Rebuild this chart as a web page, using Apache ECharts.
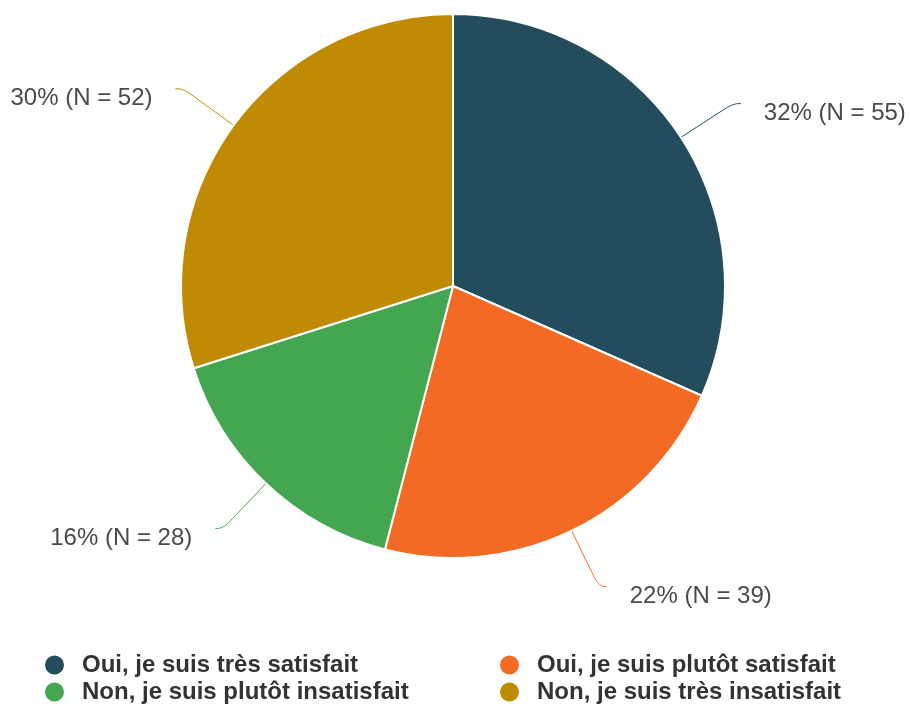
<!DOCTYPE html>
<html>
<head>
<meta charset="utf-8">
<script src="https://cdn.jsdelivr.net/npm/echarts@6/dist/echarts.min.js"></script>
<style>
  html, body { margin: 0; padding: 0; background: #fff; }
  #main { width: 910px; height: 707px; }
</style>
</head>
<body>
<div id="main"></div>
<script>
// données du graphique
const categories = [
  'Oui, je suis très satisfait',
  'Oui, je suis plutôt satisfait',
  'Non, je suis plutôt insatisfait',
  'Non, je suis très insatisfait'
]
const counts = [55, 39, 28, 52]
const colors = ['#234d5c', '#f26a24', '#45a651', '#c18a03']

const total = counts.reduce((a, b) => a + b, 0)
const seriesData = categories.map((name, i) => ({ name: name, value: counts[i] }))

const chartInstance = echarts.init(document.getElementById('main'))

const legendBase = {
  orient: 'vertical',
  icon: 'circle',
  itemWidth: 21,
  itemHeight: 21,
  itemGap: 3,
  height: 70,
  selectedMode: false,
  textStyle: {
    fontFamily: 'Liberation Sans, Arial, sans-serif',
    fontSize: 24,
    fontWeight: 'bold',
    color: '#333',
    padding: [0, 0, 0, 12]
  }
}

const option = {
  color: colors,
  animation: false,
  legend: [
    Object.assign({}, legendBase, { left: 38, top: 648, data: [categories[0], categories[2]] }),
    Object.assign({}, legendBase, { left: 493, top: 648, data: [categories[1], categories[3]] })
  ],
  series: [
    {
      type: 'pie',
      center: [453, 286],
      radius: 272,
      startAngle: 90,
      clockwise: true,
      data: seriesData,
      itemStyle: {
        borderColor: '#fff',
        borderWidth: 2
      },
      label: {
        show: true,
        overflow: 'none',
        distanceToLabelLine: 23,
        formatter: p => '{t|' + Math.round(p.value / total * 100) + '% (N = ' + p.value + ')}',
        rich: {
          t: {
            fontFamily: 'Liberation Sans, Arial, sans-serif',
            fontSize: 24,
            color: '#4a4a4a',
            padding: [20, 0, 0, 0]
          }
        }
      },
      labelLine: {
        show: true,
        length: 62,
        length2: 8,
        smooth: 0.5,
        lineStyle: { width: 1 }
      },
      emphasis: { disabled: true }
    }
  ]
}

chartInstance.setOption(option)
</script>
</body>
</html>
